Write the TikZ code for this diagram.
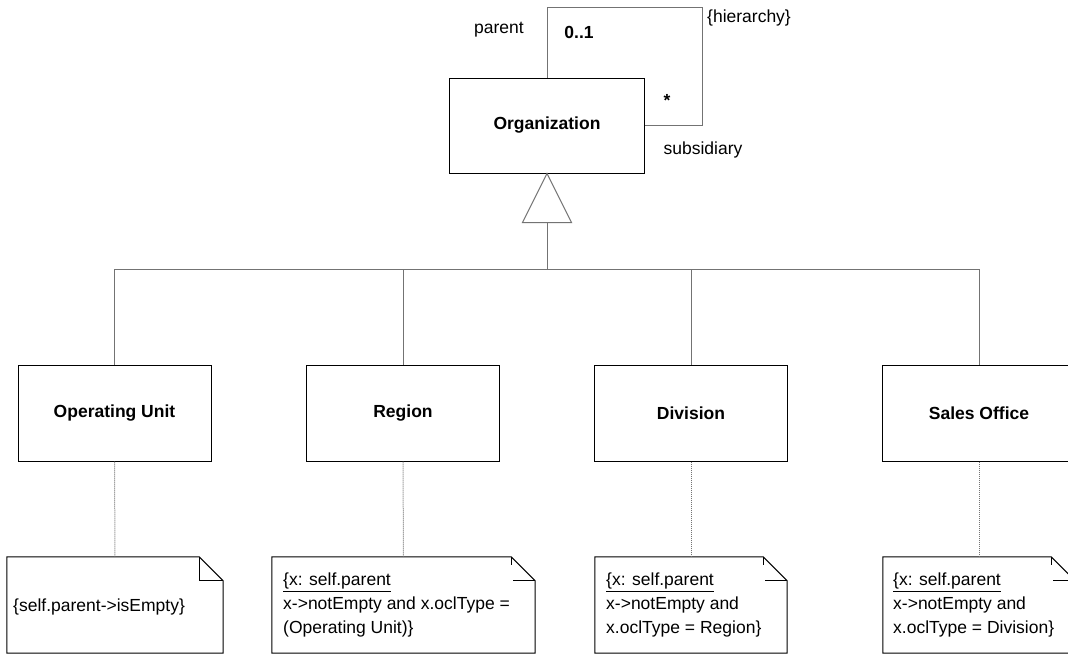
\documentclass[tikz,border=0pt]{standalone}
\usepackage{fontspec}
\setmainfont{Liberation Sans}
\begin{document}
\begin{tikzpicture}[x=1pt,y=-1pt,
  every node/.style={font=\fontsize{17.5}{24}\selectfont, inner sep=0pt},
  classbox/.style={draw=black, line width=1pt, minimum width=193pt, minimum height=96pt, font=\fontsize{17.5}{24}\selectfont\bfseries},
  notebox/.style={draw=none, minimum height=96pt},
  conn/.style={draw=black!55, line width=1pt},
  anchorline/.style={draw=black!55, line width=1pt, dash pattern=on 1pt off 1pt},
  noteline/.style={draw=black, line width=1pt},
  lbl/.style={font=\fontsize{17.5}{24}\selectfont},
  notetext/.style={align=left, anchor=north west, font=\fontsize{17.5}{24}\selectfont}
]
\useasboundingbox (0,0) rectangle (1068,654);

% classes
\node[classbox, minimum width=195pt, minimum height=95pt] (org) at (547,125.5) {Organization};
\node[classbox] (ou) at (114.5,413) {Operating Unit};
\node[classbox] (reg) at (403,413) {Region};
\node[classbox] (div) at (691,413) {Division};
\node[classbox] (so) at (979,413) {Sales Office};

% self association
\coordinate (lt) at (702,7);
\draw[conn] (org.north) |- (lt) |- (org.east);
\node[lbl] (lparent) at (499,30) {parent};
\node[lbl, font=\fontsize{17.5}{24}\selectfont\bfseries] (lzo) at (579,32) {0..1};
\node[lbl] (lhier) at (749,18) {\{hierarchy\}};
\node[lbl, font=\fontsize{17.5}{24}\selectfont\bfseries] (lstar) at (667,100) {*};
\node[lbl] (lsub) at (703,150) {subsidiary};

% generalization
\coordinate (tb) at (547,222);
\coordinate (bus) at (547,269);
\draw[conn, fill=white] (org.south) -- ++(-24.5,49) -- ++(49,0) -- cycle;
\draw[conn] (tb) -- (bus);
\foreach \c in {ou,reg,div,so} {
  \draw[conn] (\c.north) |- (bus);
}

% notes
\node[notebox, minimum width=216pt] (n1) at (115,605) {};
\node[notebox, minimum width=263pt] (n2) at (403.5,605) {};
\node[notebox, minimum width=192pt] (n3) at (691,605) {};
\node[notebox, minimum width=192pt] (n4) at (979,605) {};

\foreach \n in {n1,n2,n3,n4} {
  \draw[noteline] (\n.south west) -- (\n.north west) -- ([xshift=-24pt]\n.north east)
     -- ([yshift=-24pt]\n.north east) -- (\n.south east) -- cycle;
}
% fold corners
\draw[noteline] ([xshift=-24pt]n1.north east) -- ([xshift=-24pt,yshift=-24pt]n1.north east) -- ([yshift=-24pt]n1.north east);
\foreach \n in {n2,n3,n4} {
  \draw[noteline] ([xshift=-24pt]\n.north east) -- ([xshift=-24pt,yshift=-8pt]\n.north east);
  \draw[noteline] ([xshift=-22pt,yshift=-24pt]\n.north east) -- ([yshift=-24pt]\n.north east);
}

% anchors
\draw[anchorline] (ou.south) -- (n1.north);
\draw[anchorline] (reg.south) -- (n2.north);
\draw[anchorline] (div.south) -- (n3.north);
\draw[anchorline] (so.south) -- (n4.north);

% note texts
\node[lbl, anchor=west] (t1) at (13,607) {\{self.parent->isEmpty\}};
\node[notetext] (t2) at (283,573) {\underline{\{x: self.parent}\\x->notEmpty and x.oclType =\\(Operating Unit)\}};
\node[notetext] (t3) at (606,573) {\underline{\{x: self.parent}\\x->notEmpty and\\x.oclType = Region\}};
\node[notetext] (t4) at (893,573) {\underline{\{x: self.parent}\\x->notEmpty and\\x.oclType = Division\}};
\end{tikzpicture}
\end{document}
